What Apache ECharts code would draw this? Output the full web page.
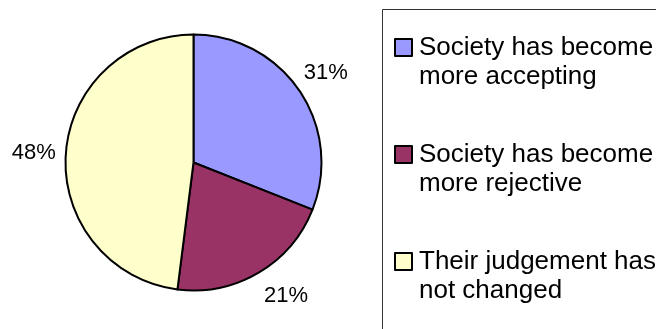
<!DOCTYPE html>
<html>
<head>
<meta charset="utf-8">
<script src="https://cdn.jsdelivr.net/npm/echarts@6/dist/echarts.min.js"></script>
<style>
html,body{margin:0;padding:0;background:#fff;}
#chart{width:656px;height:329px;}
</style>
</head>
<body>
<div id="chart"></div>
<script>
const categories = ['Society has become\nmore accepting', 'Society has become\nmore rejective', 'Their judgement has\nnot changed'];
const values = [31, 21, 48];
const colors = ['#9999FF', '#993366', '#FFFFCC'];

const FONT = "'Liberation Sans', Arial, sans-serif";
const chart = echarts.init(document.getElementById('chart'), null, {renderer: 'canvas'});
const data = categories.map((c, i) => ({name: c, value: values[i], itemStyle: {color: colors[i]}}));
const labelOffsets = [[0, 0], [11, -4], [0, 0]];

chart.setOption({
  animation: false,
  backgroundColor: '#ffffff',
  graphic: [{
    type: 'rect',
    shape: {x: 382.5, y: 9.5, width: 400, height: 400},
    style: {fill: 'none', stroke: '#333', lineWidth: 1},
    z: -1
  }],
  legend: {
    orient: 'vertical',
    left: 394,
    top: 4,
    padding: 0,
    itemWidth: 17,
    itemHeight: 17,
    itemGap: 20,
    icon: 'rect',
    selectedMode: false,
    data: categories,
    formatter: function (name) { return '\n' + name; },
    itemStyle: {borderColor: '#000', borderWidth: 2},
    textStyle: {
      fontFamily: FONT,
      fontSize: 26,
      lineHeight: 29,
      color: '#000',
      padding: [0, 0, 0, 2]
    }
  },
  series: [{
    type: 'pie',
    center: [193.5, 162.5],
    radius: [0, 128],
    startAngle: 90,
    clockwise: true,
    silent: true,
    data: data,
    itemStyle: {borderColor: '#000', borderWidth: 2},
    label: {show: false},
    labelLine: {show: false}
  }, {
    type: 'pie',
    center: [193.5, 162.5],
    radius: [147, 167],
    startAngle: 90,
    clockwise: true,
    silent: true,
    data: categories.map((c, i) => ({name: c, value: values[i], label: {offset: labelOffsets[i]}})),
    itemStyle: {color: 'rgba(0,0,0,0)', borderWidth: 0},
    label: {
      show: true,
      position: 'inside',
      formatter: '{c}%',
      fontFamily: FONT,
      fontSize: 22,
      color: '#000'
    },
    labelLine: {show: false},
    emphasis: {disabled: true}
  }]
});
</script>
</body>
</html>
